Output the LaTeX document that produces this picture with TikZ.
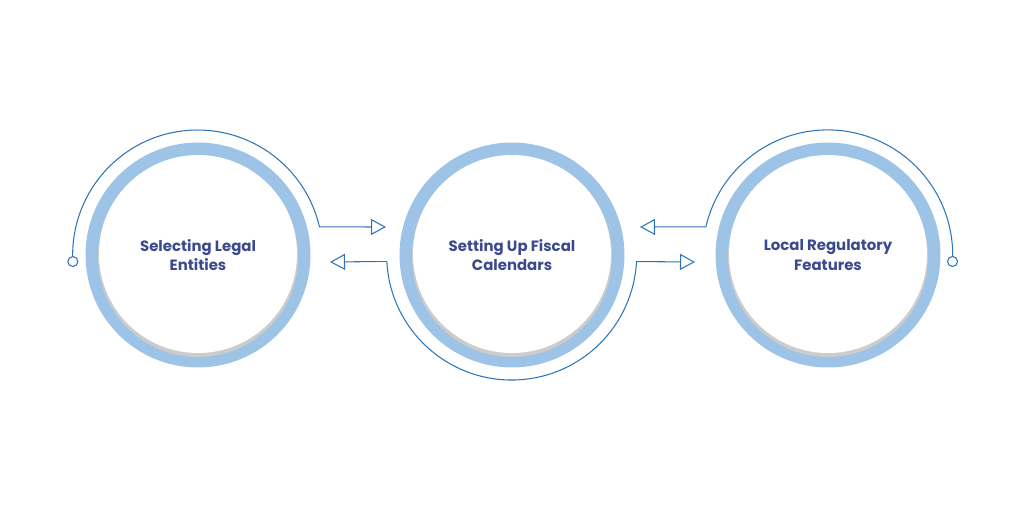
\documentclass[tikz,border=0pt]{standalone}
\usepackage{fontspec}
\setmainfont{Poppins}
\usetikzlibrary{arrows.meta}
\definecolor{ringblue}{HTML}{9DC3E6}
\definecolor{lineblue}{HTML}{2E75B6}
\definecolor{textblue}{HTML}{3B4A8C}
\begin{document}
\begin{tikzpicture}[x=0.02cm,y=0.02cm]
	\tikzset{>={Triangle[open,length=0.3cm,width=0.32cm]}}
  \tikzset{ring/.style={circle,draw=ringblue,line width=0.26cm,minimum size=4.24cm,fill=white},
           track/.style={circle,minimum size=5cm,inner sep=0pt},
           label/.style={font=\fontsize{8.5}{11}\selectfont\bfseries,text=textblue,align=center},
           thin/.style={draw=lineblue,line width=0.6pt}}
  \useasboundingbox (0,0) rectangle (1024,512);

  % rings with soft shadow
  \foreach \x/\n in {198/legal,512/fiscal,828/local}{
    \node[ring] (\n) at (\x,257) {};
    \fill[gray!40] (\x,255) circle (100);
    \fill[white] (\x,258) circle (99);
    \node[track] (\n arc) at (\x,257) {};
  }
  \node[label] (legaltext) at (legal) {Selecting Legal\\Entities};
  \node[label] (fiscaltext) at (fiscal) {Setting Up Fiscal\\Calendars};
  \node[label] (localtext) at (local) {Local Regulatory\\Features};

  \coordinate (ltip) at (386,285);
  \coordinate (lback) at (330,250);
  \coordinate (rtip) at (695,250);
  \coordinate (rback) at (640,285);

  % connectors
  \draw[thin,->] (legalarc.183) arc[start angle=183,end angle=13,radius=125] -- (ltip);
  \draw[thin,->] (fiscalarc.183) arc[start angle=183,end angle=357,radius=125] -- (rtip);
  \draw[thin] (fiscalarc.183) -- ++(-10,0) coordinate (fl);
  \draw[thin,->] (fl) -- (lback);
  \draw[thin] (localarc.167) arc[start angle=167,end angle=-3,radius=125] coordinate (re);
  \draw[thin,->] (localarc.167) -- (rback);
  \draw[thin,fill=white] (legalarc.183) circle (5);
  \draw[thin,fill=white] (re) circle (5);
\end{tikzpicture}
\end{document}
